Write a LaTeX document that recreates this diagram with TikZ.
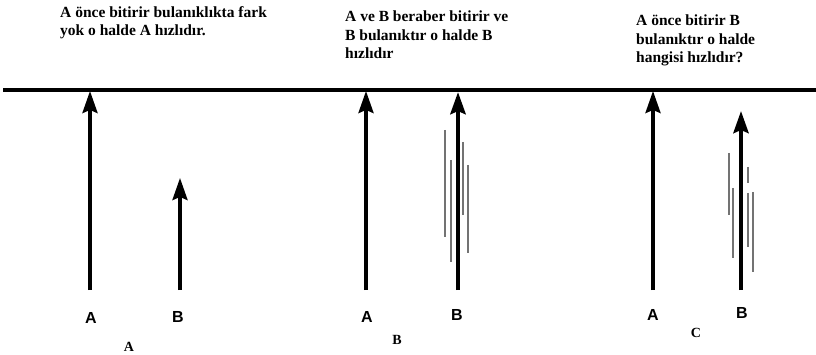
\documentclass[tikz,border=0pt]{standalone}
\usepackage{fontspec}
\setmainfont{Liberation Serif}
\setsansfont{Liberation Sans}
\usetikzlibrary{arrows.meta}

\begin{document}
\begin{tikzpicture}[x=1pt,y=-1pt,
  note/.style={anchor=north west,align=left,inner sep=0pt,
    font=\bfseries\fontsize{15.5}{18.5}\selectfont},
  runner/.style={font=\sffamily\bfseries\fontsize{16}{18}\selectfont},
  panel/.style={font=\bfseries\fontsize{14}{16}\selectfont},
  track/.style={line width=3.3pt,-{Stealth[length=22pt,width=15pt,inset=3pt]}},
  blur/.style={line width=1.6pt,black!55}]
\useasboundingbox (0,0) rectangle (816,355);
% finish line
\coordinate (l0) at (3,90);
\coordinate (l1) at (816,90);
\draw[line width=3.5pt] (l0) -- (l1);
% notes
\node[note] (n1) at (60,6) {A önce bitirir bulanıklıkta fark\\yok o halde A hızlıdır.};
\node[note] (n2) at (345,11) {A ve B beraber bitirir ve\\B bulanıktır o halde B\\hızlıdır};
\node[note] (n3) at (636,15) {A önce bitirir B\\bulanıktır o halde\\hangisi hızlıdır?};
% panel A
\coordinate (a1s) at (90,290);
\coordinate (a1e) at (90,91);
\coordinate (b1s) at (180,290);
\coordinate (b1e) at (180,178);
\draw[track] (a1s) -- (a1e);
\draw[track] (b1s) -- (b1e);
\node[runner] (ra1) at (91,318) {A};
\node[runner] (rb1) at (178,317) {B};
\node[panel] (p1) at (129,347) {A};
% panel B
\coordinate (a2s) at (366,290);
\coordinate (a2e) at (366,91);
\coordinate (b2s) at (458,290);
\coordinate (b2e) at (458,92);
\draw[blur] (445,130) -- (445,237);
\draw[blur] (451,160) -- (451,262);
\draw[blur] (463,142) -- (463,215);
\draw[blur] (468,165) -- (468,253);
\draw[track] (a2s) -- (a2e);
\draw[track,line width=4.6pt] (b2s) -- (b2e);
\node[runner] (ra2) at (367,317) {A};
\node[runner] (rb2) at (457,315) {B};
\node[panel] (p2) at (397,340) {B};
% panel C
\coordinate (a3s) at (653,290);
\coordinate (a3e) at (653,91);
\coordinate (b3s) at (741,290);
\coordinate (b3e) at (741,111);
\draw[blur] (729,153) -- (729,215);
\draw[blur] (733,188) -- (733,258);
\draw[blur] (748,167) -- (748,183);
\draw[blur] (748,193) -- (748,247);
\draw[blur] (753,192) -- (753,272);
\draw[track] (a3s) -- (a3e);
\draw[track,line width=4.2pt] (b3s) -- (b3e);
\node[runner] (ra3) at (653,315) {A};
\node[runner] (rb3) at (742,313) {B};
\node[panel] (p3) at (696,333) {C};
\end{tikzpicture}
\end{document}
